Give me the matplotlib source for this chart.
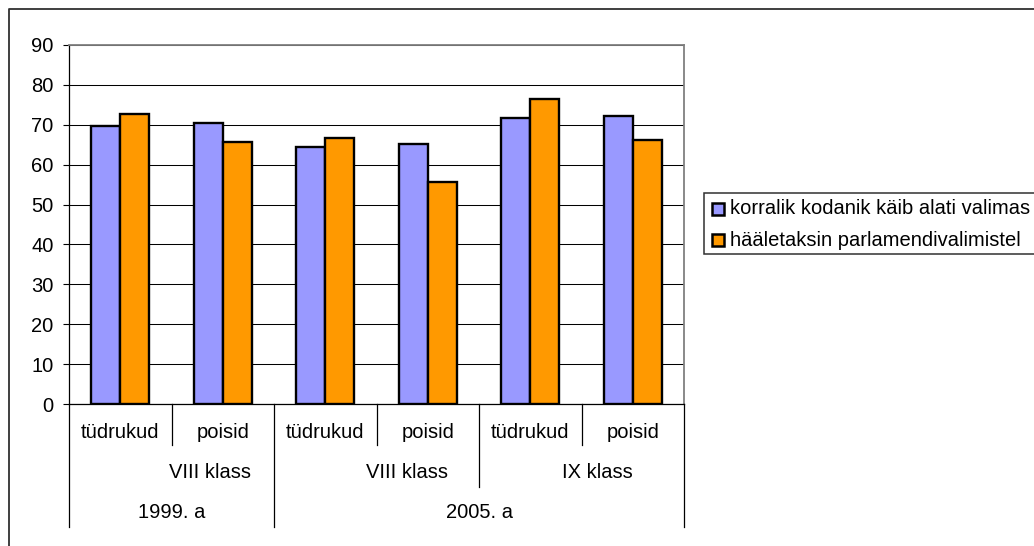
import matplotlib
matplotlib.use("Agg")
import matplotlib.pyplot as plt
from matplotlib.transforms import blended_transform_factory
from matplotlib.patches import Rectangle
from matplotlib.lines import Line2D
import numpy as np

# data
groups = ["tüdrukud", "poisid", "tüdrukud", "poisid", "tüdrukud", "poisid"]
classes = ["VIII klass", "VIII klass", "IX klass"]
years = ["1999. a", "2005. a"]
series_names = ["korralik kodanik käib alati valimas",
                "hääletaksin parlamendivalimistel"]
korralik = [69.7, 70.4, 64.4, 65.3, 71.8, 72.2]
haaletaksin = [72.7, 65.7, 66.8, 55.7, 76.4, 66.1]
colors = ["#9999FF", "#FF9900"]

W, H = 1034, 546
plt.rcParams["font.family"] = ["Liberation Sans", "DejaVu Sans"]
FS = 14.5

fig = plt.figure(figsize=(W / 100, H / 100), dpi=100)
fig.patch.set_facecolor("white")

# plot area (pixel box: left 69, right 684, top 45, bottom 404)
ax = fig.add_axes([69 / W, (H - 404) / H, (684 - 69) / W, (404 - 45) / H])
x = np.arange(len(groups))
bw = 0.283
ax.bar(x - bw / 2, korralik, bw, color=colors[0], edgecolor="black", linewidth=1.7, zorder=3)
ax.bar(x + bw / 2, haaletaksin, bw, color=colors[1], edgecolor="black", linewidth=1.7, zorder=3)

ax.set_xlim(-0.5, len(groups) - 0.5)
ax.set_ylim(0, 90)
ax.set_yticks(range(0, 91, 10))
ax.yaxis.grid(True, color="black", linewidth=0.75)
ax.set_axisbelow(True)
ax.set_xticks([])
ax.tick_params(axis="y", length=4, width=0.8, pad=7, labelsize=FS)
for s in ["top", "right"]:
    ax.spines[s].set_color("#808080")
    ax.spines[s].set_linewidth(1.3)
for s in ["left", "bottom"]:
    ax.spines[s].set_linewidth(0.9)

# overlay in pixel coordinates for border, category axis and legend
over = fig.add_axes([0, 0, 1, 1])
over.set_xlim(0, W)
over.set_ylim(H, 0)
over.axis("off")
over.patch.set_visible(False)

# outer chart border (left and top edges)
over.plot([9, 9, W + 5], [H + 5, 9, 9], color="#303030", linewidth=1.3, clip_on=False)

tr = blended_transform_factory(ax.transData, over.transData)

def vline(xd, y_end):
    over.add_line(Line2D([xd, xd], [404, y_end], transform=tr, color="black",
                         linewidth=0.9, clip_on=False))

# multi-level category axis
for xd in [0.5, 2.5, 4.5]:
    vline(xd, 445)
vline(3.5, 487)
for xd in [-0.5, 1.5, 5.5]:
    vline(xd, 527)

for i, g in enumerate(groups):
    over.text(i, 433, g, transform=tr, ha="center", va="center", fontsize=FS)
class_x = [0.88, 2.8, 4.65]
for cx, c in zip(class_x, classes):
    over.text(cx, 473, c, transform=tr, ha="center", va="center", fontsize=FS)
year_x = [0.5, 3.5]
for yx, y in zip(year_x, years):
    over.text(yx, 513, y, transform=tr, ha="center", va="center", fontsize=FS)

# legend box
over.add_patch(Rectangle((704, 193), 400, 61, facecolor="white",
                         edgecolor="#303030", linewidth=1.1, clip_on=True))
for k, (name, col) in enumerate(zip(series_names, colors)):
    yc = 209 + k * 31
    over.add_patch(Rectangle((712, yc - 6), 12, 12, facecolor=col,
                             edgecolor="black", linewidth=1.8))
    over.text(730, yc, name, ha="left", va="center", fontsize=FS)

fig.savefig("out.png", dpi=100)
